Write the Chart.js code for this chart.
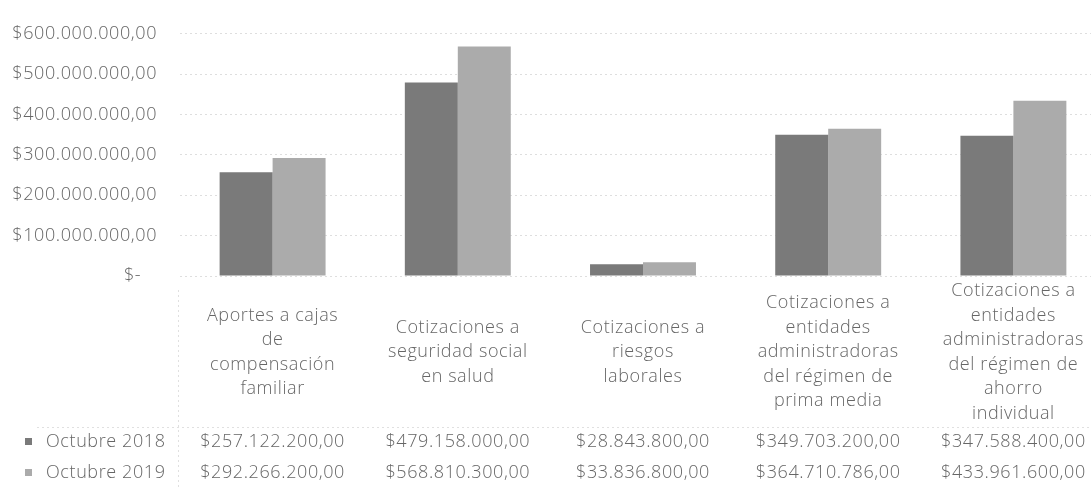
<!DOCTYPE html>
<html>
<head>
<meta charset="utf-8">
<script src="https://cdn.jsdelivr.net/npm/chart.js@4.4.1/dist/chart.umd.min.js"></script>
<style>
  html, body { margin: 0; padding: 0; background: #fff; overflow: hidden; }
  #wrap { width: 1091px; height: 489px; overflow: hidden; position: relative; }
  canvas { display: block; }
</style>
</head>
<body>
<div id="wrap"><canvas id="c" width="1110" height="489"></canvas></div>
<script>
// Categories (multi-line labels as they appear in the table header)
const categories = [
  ['Aportes a cajas', 'de', 'compensación', 'familiar'],
  ['Cotizaciones a', 'seguridad social', 'en salud'],
  ['Cotizaciones a', 'riesgos', 'laborales'],
  ['Cotizaciones a', 'entidades', 'administradoras', 'del régimen de', 'prima media'],
  ['Cotizaciones a', 'entidades', 'administradoras', 'del régimen de', 'ahorro', 'individual']
];
const seriesNames = ['Octubre 2018', 'Octubre 2019'];
const octubre2018 = [257122200, 479158000, 28843800, 349703200, 347588400];
const octubre2019 = [292266200, 568810300, 33836800, 364710786, 433961600];
const yTickValues = [0, 100000000, 200000000, 300000000, 400000000, 500000000, 600000000];

const FONT = '"Open Sans", Lato, sans-serif';
const TEXT = '#666666';
const COLORS = ['#7a7a7a', '#ababab'];
const SPACING = '0.6px';

function money(v) {
  if (v === 0) return '$-   ';
  const s = Math.round(v).toString().replace(/\B(?=(\d{3})+(?!\d))/g, '.');
  return '$' + s + ',00';
}

// Slightly open tracking for all text drawn on the canvas
const tracking = {
  id: 'tracking',
  beforeLayout(chart) { chart.ctx.letterSpacing = SPACING; },
  beforeDraw(chart) { chart.ctx.letterSpacing = SPACING; }
};

// Data table under the x axis: legend keys, series names and values per category
const dataTable = {
  id: 'dataTable',
  afterDraw(chart) {
    const { ctx } = chart;
    const xs = chart.scales.x;
    const rowY = [442, 473];
    ctx.save();
    ctx.strokeStyle = '#e0e0e0';
    ctx.lineWidth = 1;
    ctx.setLineDash([2, 3]);
    ctx.beginPath();
    ctx.moveTo(37, 427.5); ctx.lineTo(chart.width, 427.5);
    ctx.moveTo(178.5, 290); ctx.lineTo(178.5, 489);
    ctx.stroke();
    ctx.setLineDash([]);
    ctx.letterSpacing = SPACING;
    ctx.font = '300 18px ' + FONT;
    ctx.textBaseline = 'middle';
    chart.data.datasets.forEach((ds, i) => {
      const y = rowY[i];
      ctx.fillStyle = ds.backgroundColor;
      ctx.fillRect(25, y - 4, 7, 7);
      ctx.fillStyle = TEXT;
      ctx.textAlign = 'left';
      ctx.fillText(ds.label, 46, y);
      ctx.textAlign = 'center';
      ds.data.forEach((v, j) => ctx.fillText(money(v), xs.getPixelForValue(j), y));
    });
    ctx.restore();
  }
};

new Chart(document.getElementById('c'), {
  type: 'bar',
  data: {
    labels: categories,
    datasets: [
      { label: seriesNames[0], data: octubre2018, backgroundColor: COLORS[0] },
      { label: seriesNames[1], data: octubre2019, backgroundColor: COLORS[1] }
    ]
  },
  options: {
    responsive: false,
    animation: false,
    devicePixelRatio: 1,
    layout: { padding: { top: 17, right: 4, bottom: 63, left: 0 } },
    categoryPercentage: 0.572,
    barPercentage: 1.0,
    plugins: { legend: { display: false }, tooltip: { enabled: false } },
    scales: {
      x: {
        grid: { display: false },
        border: { display: false },
        ticks: {
          color: TEXT,
          font: { family: FONT, size: 18, weight: '300', lineHeight: 1.36 },
          maxRotation: 0,
          autoSkip: false,
          crossAlign: 'center',
          padding: 7
        },
        afterFit: s => { s.height = 150; }
      },
      y: {
        min: 0,
        max: 600000000,
        afterBuildTicks: s => { s.ticks = yTickValues.map(v => ({ value: v })); },
        grid: { color: '#dedede', lineWidth: 1, drawTicks: false },
        border: { display: false, dash: [2, 3] },
        ticks: {
          color: TEXT,
          font: { family: FONT, size: 18, weight: '300' },
          padding: 23,
          callback: v => money(v)
        },
        afterFit: s => { s.width = 180; }
      }
    }
  },
  plugins: [tracking, dataTable]
});
</script>
</body>
</html>
